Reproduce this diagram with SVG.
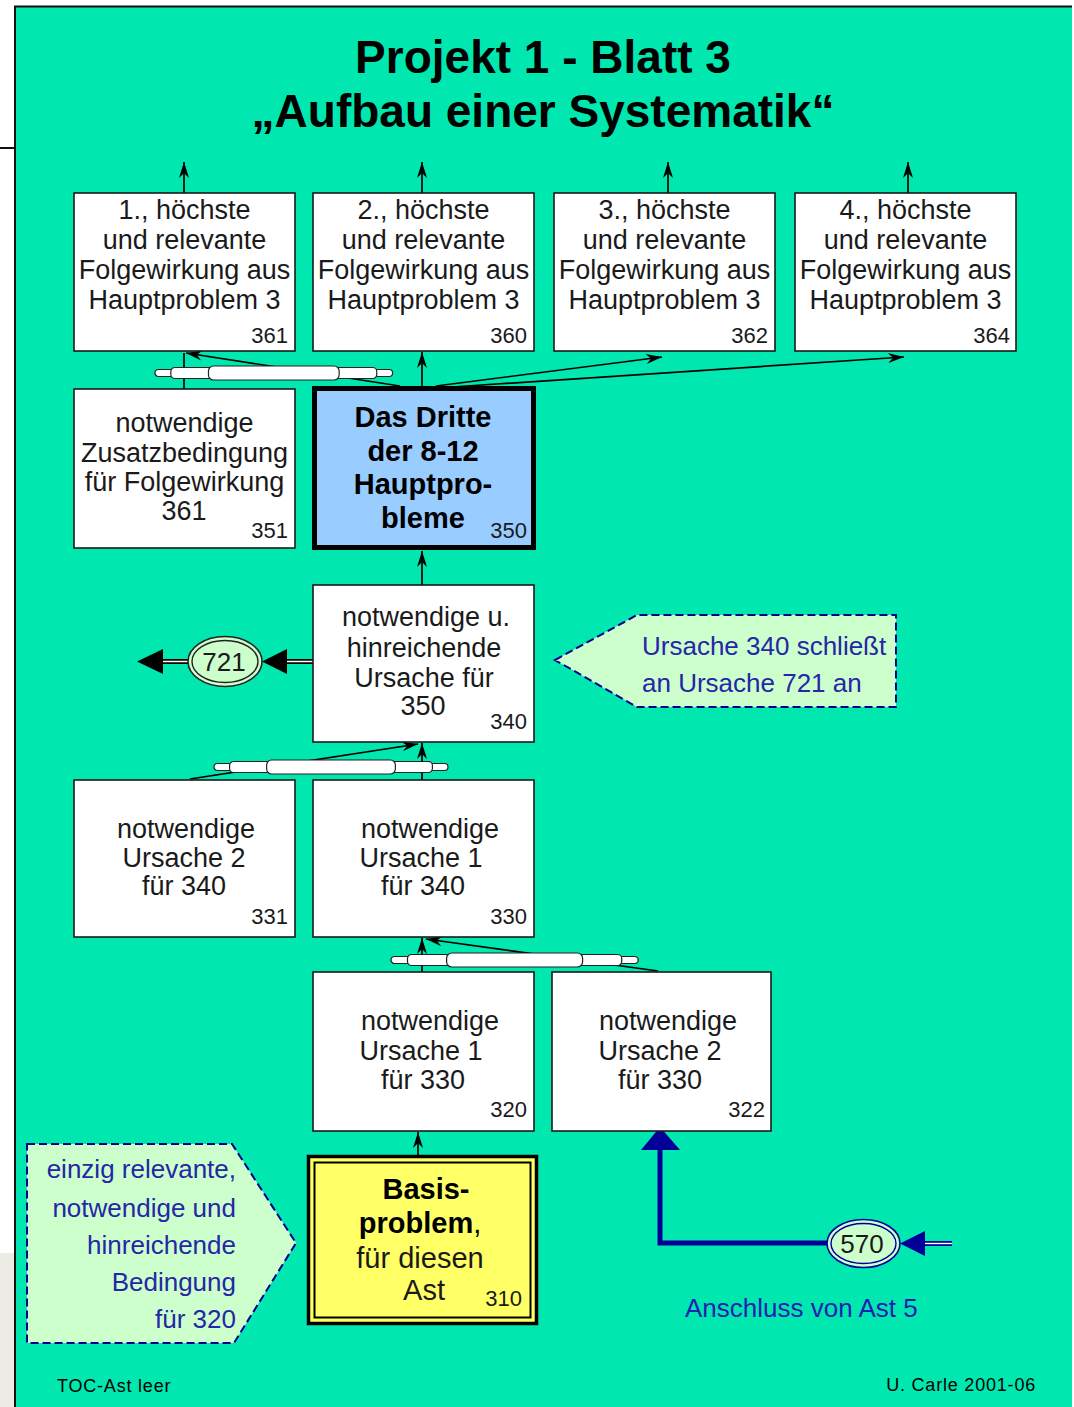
<svg xmlns="http://www.w3.org/2000/svg" xmlns:xlink="http://www.w3.org/1999/xlink" width="1074" height="1407" viewBox="0 0 1074 1407">
<style>
.box{fill:#fff;stroke:#1a1a1a;stroke-width:1.6}
.t{font-family:'Liberation Sans',Arial,sans-serif;font-size:27px;fill:#1a1a1a;text-anchor:middle}
.num{font-family:'Liberation Sans',Arial,sans-serif;font-size:22px;fill:#1a1a1a;text-anchor:end}
.b{font-weight:bold}
.blue{font-family:'Liberation Sans',Arial,sans-serif;font-size:26px;fill:#2626a6}
.conn{stroke:#000;stroke-width:1.7;fill:none}
.rod rect{fill:#fff;stroke:#222;stroke-width:1.2}
.call{fill:#ccffcc;stroke:#00008c;stroke-width:2;stroke-dasharray:8 4}
.foot{font-family:'Liberation Sans',Arial,sans-serif;font-size:18px;fill:#000;letter-spacing:0.8px}
</style>
<defs>
<marker id="ah" markerUnits="userSpaceOnUse" markerWidth="20" markerHeight="14" refX="0" refY="0" viewBox="-17 -7 20 14" orient="auto" overflow="visible">
<path d="M0,0 L-16,-5 L-11,0 L-16,5 Z" fill="#000"/>
</marker>
<g id="rod" class="rod">
<rect x="0" y="-3.5" width="240" height="7" rx="3.5"/>
<rect x="16" y="-5.5" width="208" height="11" rx="4"/>
<rect x="54" y="-7" width="132" height="14" rx="5"/>
</g>
</defs>
<rect x="0" y="0" width="1074" height="1407" fill="#fff"/>
<rect x="0" y="1253" width="14" height="154" fill="#ecebe4"/>
<rect x="14" y="6" width="1058" height="1401" fill="#00e8b0"/>
<path d="M15,6 V1407 M14,6.5 H1072 M0,148 H14" stroke="#111" stroke-width="2" fill="none"/>

<g id="title">
<text x="543" y="73" class="t b" style="font-size:46px;fill:#000">Projekt 1 - Blatt 3</text>
<text x="543" y="127" class="t b" style="font-size:46px;fill:#000">„Aufbau einer Systematik“</text>
</g>

<g id="connectors">
<path class="conn" marker-end="url(#ah)" d="M184,193 V162"/>
<path class="conn" marker-end="url(#ah)" d="M422,193 V162"/>
<path class="conn" marker-end="url(#ah)" d="M668,193 V162"/>
<path class="conn" marker-end="url(#ah)" d="M908,193 V162"/>
<path class="conn" d="M184,389 V353"/>
<path class="conn" marker-end="url(#ah)" d="M400,386 L186,353"/>
<path class="conn" marker-end="url(#ah)" d="M422,388 V352"/>
<path class="conn" marker-end="url(#ah)" d="M436,386 L662,357"/>
<path class="conn" marker-end="url(#ah)" d="M452,387 L904,357"/>
<path class="conn" marker-end="url(#ah)" d="M422,585 V551"/>
<path class="conn" marker-end="url(#ah)" d="M422,780 V743"/>
<path class="conn" marker-end="url(#ah)" d="M190,779 L418,744"/>
<path class="conn" marker-end="url(#ah)" d="M422,972 V938"/>
<path class="conn" marker-end="url(#ah)" d="M658,971 L426,939"/>
<path class="conn" marker-end="url(#ah)" d="M418,1155 V1132"/>
<use xlink:href="#rod" transform="translate(155,373) scale(0.99,1)"/>
<use xlink:href="#rod" transform="translate(214,767) scale(0.975,1)"/>
<use xlink:href="#rod" transform="translate(391,960) scale(1.03,1)"/>
<path d="M287,661.5 H313 M163,661.5 H189" stroke="#000" stroke-width="5"/>
<path d="M287,661.5 H313 M163,661.5 H189" stroke="#fff" stroke-width="1.4"/>
<polygon points="262,661.5 287,649 287,674" fill="#000"/>
<polygon points="137,661.5 163,649 163,674" fill="#000"/>
<path d="M827,1243 H660 V1148" stroke="#000099" stroke-width="5" fill="none"/>
<polygon points="660,1127 641,1150 680,1150" fill="#000099"/>
<path d="M924,1243.5 H952" stroke="#000099" stroke-width="5"/>
<path d="M924,1243.5 H952" stroke="#fff" stroke-width="1.4"/>
<polygon points="900,1243.5 925,1231 925,1256" fill="#000099"/>
</g>

<g id="n361">
<rect class="box" x="74" y="193" width="221" height="158"/>
<text class="t" x="184.5" y="219">1., höchste</text>
<text class="t" x="184.5" y="249">und relevante</text>
<text class="t" x="184.5" y="279">Folgewirkung aus</text>
<text class="t" x="184.5" y="309">Hauptproblem 3</text>
<text class="num" x="288" y="343">361</text>
</g>
<g id="n360">
<rect class="box" x="313" y="193" width="221" height="158"/>
<text class="t" x="423.5" y="219">2., höchste</text>
<text class="t" x="423.5" y="249">und relevante</text>
<text class="t" x="423.5" y="279">Folgewirkung aus</text>
<text class="t" x="423.5" y="309">Hauptproblem 3</text>
<text class="num" x="527" y="343">360</text>
</g>
<g id="n362">
<rect class="box" x="554" y="193" width="221" height="158"/>
<text class="t" x="664.5" y="219">3., höchste</text>
<text class="t" x="664.5" y="249">und relevante</text>
<text class="t" x="664.5" y="279">Folgewirkung aus</text>
<text class="t" x="664.5" y="309">Hauptproblem 3</text>
<text class="num" x="768" y="343">362</text>
</g>
<g id="n364">
<rect class="box" x="795" y="193" width="221" height="158"/>
<text class="t" x="905.5" y="219">4., höchste</text>
<text class="t" x="905.5" y="249">und relevante</text>
<text class="t" x="905.5" y="279">Folgewirkung aus</text>
<text class="t" x="905.5" y="309">Hauptproblem 3</text>
<text class="num" x="1010" y="343">364</text>
</g>

<g id="n351">
<rect class="box" x="74" y="389" width="221" height="159"/>
<text class="t" x="184.5" y="432">notwendige</text>
<text class="t" x="184.5" y="462">Zusatzbedingung</text>
<text class="t" x="184.5" y="491">für Folgewirkung</text>
<text class="t" x="184" y="520">361</text>
<text class="num" x="288" y="538">351</text>
</g>
<g id="n350">
<rect x="314.5" y="388.5" width="219" height="159" fill="#99ccff" stroke="#000" stroke-width="5"/>
<text class="t b" x="423" y="427" style="font-size:29px;fill:#000">Das Dritte</text>
<text class="t b" x="423" y="461" style="font-size:29px;fill:#000">der 8-12</text>
<text class="t b" x="423" y="494" style="font-size:29px;fill:#000">Hauptpro-</text>
<text class="t b" x="423" y="528" style="font-size:29px;fill:#000">bleme</text>
<text class="num" x="527" y="538">350</text>
</g>

<g id="n340">
<rect class="box" x="313" y="585" width="221" height="157"/>
<text class="t" x="426" y="626">notwendige u.</text>
<text class="t" x="424" y="657">hinreichende</text>
<text class="t" x="424" y="687">Ursache für</text>
<text class="t" x="423" y="715">350</text>
<text class="num" x="527" y="729">340</text>
</g>
<g id="n721">
<ellipse cx="225" cy="661.5" rx="37" ry="25" fill="#ccffcc" stroke="#222" stroke-width="1.6"/>
<ellipse cx="225" cy="661.5" rx="33" ry="21" fill="none" stroke="#222" stroke-width="1.4"/>
<text class="t" x="224" y="671" style="font-size:26px">721</text>
</g>
<g id="c340">
<polygon class="call" points="555,660 637,615 896,615 896,707 637,707"/>
<text class="blue" x="642" y="655">Ursache 340 schließt</text>
<text class="blue" x="642" y="692">an Ursache 721 an</text>
</g>

<g id="n331">
<rect class="box" x="74" y="780" width="221" height="157"/>
<text class="t" x="186" y="838">notwendige</text>
<text class="t" x="184" y="867">Ursache 2</text>
<text class="t" x="184" y="895">für 340</text>
<text class="num" x="288" y="924">331</text>
</g>
<g id="n330">
<rect class="box" x="313" y="780" width="221" height="157"/>
<text class="t" x="430" y="838">notwendige</text>
<text class="t" x="421" y="867">Ursache 1</text>
<text class="t" x="423" y="895">für 340</text>
<text class="num" x="527" y="924">330</text>
</g>

<g id="n320">
<rect class="box" x="313" y="972" width="221" height="159"/>
<text class="t" x="430" y="1030">notwendige</text>
<text class="t" x="421" y="1060">Ursache 1</text>
<text class="t" x="423" y="1089">für 330</text>
<text class="num" x="527" y="1117">320</text>
</g>
<g id="n322">
<rect class="box" x="552" y="972" width="219" height="159"/>
<text class="t" x="668" y="1030">notwendige</text>
<text class="t" x="660" y="1060">Ursache 2</text>
<text class="t" x="660" y="1089">für 330</text>
<text class="num" x="765" y="1117">322</text>
</g>

<g id="n310">
<rect x="308.5" y="1156.5" width="228" height="167" fill="#ffff66" stroke="#000" stroke-width="3.5"/>
<rect x="314.5" y="1162.5" width="216" height="155" fill="none" stroke="#000" stroke-width="2"/>
<text class="t b" x="426" y="1199" style="font-size:29px;fill:#000">Basis-</text>
<text class="t" x="420" y="1233" style="font-size:29px;fill:#000"><tspan class="b">problem</tspan>,</text>
<text class="t" x="420" y="1268" style="font-size:29px">für diesen</text>
<text class="t" x="424" y="1300" style="font-size:29px">Ast</text>
<text class="num" x="522" y="1306">310</text>
</g>
<g id="c320">
<polygon class="call" points="27,1144 232,1144 296,1243 234,1343 27,1343"/>
<text class="blue" x="236" y="1178" text-anchor="end">einzig relevante,</text>
<text class="blue" x="236" y="1217" text-anchor="end">notwendige und</text>
<text class="blue" x="236" y="1254" text-anchor="end">hinreichende</text>
<text class="blue" x="236" y="1291" text-anchor="end">Bedingung</text>
<text class="blue" x="236" y="1328" text-anchor="end">für 320</text>
</g>

<g id="n570">
<ellipse cx="863.5" cy="1243.5" rx="36.5" ry="24" fill="#ccffcc" stroke="#000099" stroke-width="1.6"/>
<ellipse cx="863.5" cy="1243.5" rx="32.5" ry="20" fill="none" stroke="#000099" stroke-width="1.4"/>
<text class="t" x="862" y="1253" style="font-size:26px">570</text>
</g>
<text class="blue" x="685" y="1317" style="fill:#2020b0">Anschluss von Ast 5</text>

<g id="footer">
<text class="foot" x="57" y="1392">TOC-Ast leer</text>
<text class="foot" x="1036" y="1391" text-anchor="end">U. Carle 2001-06</text>
</g>
</svg>
